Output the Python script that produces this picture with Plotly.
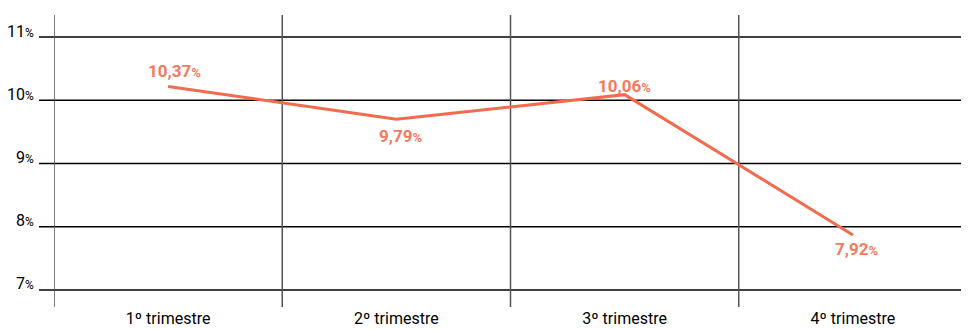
import plotly.graph_objects as go

quarters = ["1º trimestre", "2º trimestre", "3º trimestre", "4º trimestre"]
values = [10.22, 9.70, 10.09, 7.87]
labels = ["10,37", "9,79", "10,06", "7,92"]
y_ticks = [7, 8, 9, 10, 11]

line_color = '#f26b4d'
label_color = '#f47a5c'
font_family = 'Roboto, sans-serif'

fig = go.Figure()

fig.add_trace(go.Scatter(
    x=quarters,
    y=values,
    mode='lines',
    line=dict(width=3, color=line_color),
    showlegend=False,
    hoverinfo='skip'
))

shapes = []
# horizontal rules, starting a bit left of the plot area
for v in y_ticks:
    shapes.append(dict(type='line', xref='paper', yref='y', x0=-15 / 913, x1=1,
                       y0=v, y1=v, line=dict(color='black', width=1.5), layer='below'))
# vertical separators between the quarters
for i in range(len(quarters) + 1):
    shapes.append(dict(type='line', xref='x', yref='paper', x0=i - 0.5, x1=i - 0.5,
                       y0=0, y1=1, line=dict(color='#555555', width=1.5), layer='below'))

annotations = []
for v in y_ticks:
    annotations.append(dict(
        xref='paper', yref='y', x=-19 / 913, y=v, xanchor='right', yanchor='middle',
        yshift=6, showarrow=False, borderpad=0,
        text=str(v) + "<span style='font-size:12px'>%</span>",
        font=dict(family=font_family, size=16, color='black')
    ))

# value labels: above the point for 1 and 3, below for 2 and 4
label_shift = [(6, 15), (4, -17), (0, 9), (4, -14)]
for q, v, t, (dx, dy) in zip(quarters, values, labels, label_shift):
    annotations.append(dict(
        x=q, y=v, xanchor='center', yanchor='middle', xshift=dx, yshift=dy,
        showarrow=False,
        text="<b>" + t + "</b><b><span style='font-size:13px'>%</span></b>",
        font=dict(family=font_family, size=17, color=label_color)
    ))

# the page body adds an 8px margin, so the figure is sized to fit inside 969x329
fig.update_layout(
    width=961,
    height=321,
    margin=dict(l=46, r=2, t=7, b=22),
    plot_bgcolor='white',
    paper_bgcolor='white',
    shapes=shapes,
    annotations=annotations,
    xaxis=dict(range=[-0.5, 3.5], showgrid=False, zeroline=False, showline=False,
               ticks='', tickfont=dict(family=font_family, size=16, color='black')),
    yaxis=dict(range=[6.73, 11.35], showgrid=False, zeroline=False, showline=False,
               showticklabels=False, ticks=''),
)

fig.write_html("out.html")
